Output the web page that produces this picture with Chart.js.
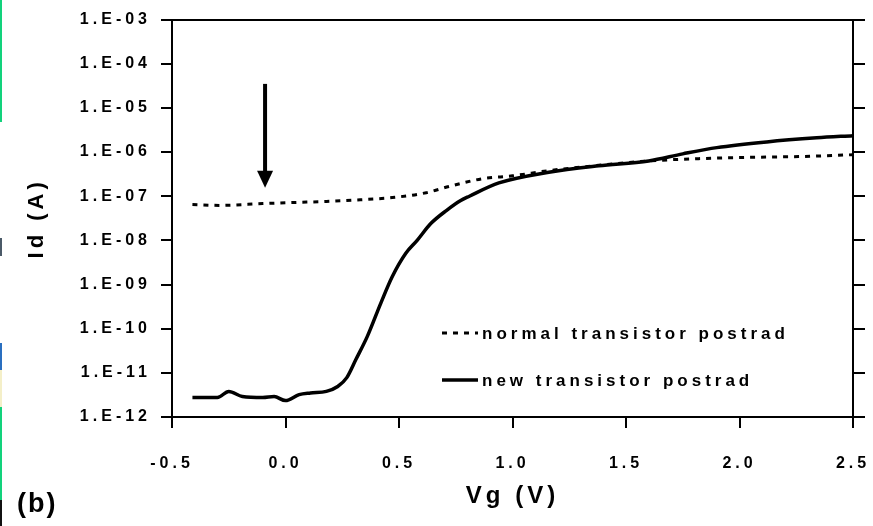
<!DOCTYPE html>
<html>
<head>
<meta charset="utf-8">
<script src="https://cdn.jsdelivr.net/npm/chart.js@4/dist/chart.umd.min.js"></script>
<style>
  body { margin: 0; background: #fff; }
  #wrap { position: relative; width: 873px; height: 526px; }
  #strip {
    position: absolute; left: 0; top: 0; width: 2px; height: 526px; z-index: 2;
    background: linear-gradient(to bottom,
      #12d27c 0px, #12d27c 122px, #fff 122px, #fff 238px,
      #4b5a68 238px, #4b5a68 256px, #fff 256px, #fff 343px,
      #2a6fc0 343px, #2a6fc0 370px, #f4efc8 370px, #f4efc8 407px,
      #12d27c 407px, #12d27c 500px, #111 500px, #111 526px);
  }
</style>
</head>
<body>
<div id="wrap">
  <div id="strip"></div>
  <canvas id="chart"></canvas>
</div>
<script>
// Vg (V) and Id (A)
const normalVg = [-0.41, -0.29, -0.10, 0.03, 0.18, 0.33, 0.47, 0.62, 0.72, 0.87, 1.00, 1.16, 1.38, 1.60, 1.82, 2.04, 2.26, 2.50];
const normalId = [6.5e-8, 6.2e-8, 6.8e-8, 7.2e-8, 7.6e-8, 8.3e-8, 9.3e-8, 1.2e-7, 1.66e-7, 2.5e-7, 2.9e-7, 3.8e-7, 5.0e-7, 6.3e-7, 7.1e-7, 7.6e-7, 7.9e-7, 8.7e-7];

const newVg = [-0.41, -0.30, -0.25, -0.19, -0.10, -0.05, 0.00, 0.06, 0.11, 0.18, 0.23, 0.27, 0.31, 0.36, 0.42, 0.47, 0.53, 0.58, 0.64, 0.71, 0.77, 0.81, 0.94, 1.16, 1.38, 1.60, 1.75, 1.90, 2.12, 2.34, 2.50];
const newId = [2.75e-12, 2.75e-12, 3.8e-12, 2.9e-12, 2.75e-12, 2.9e-12, 2.35e-12, 3.2e-12, 3.5e-12, 3.8e-12, 4.9e-12, 7.8e-12, 2.0e-11, 6.6e-11, 3.8e-10, 1.5e-9, 5.1e-9, 1.0e-8, 2.4e-8, 4.8e-8, 7.9e-8, 1.0e-7, 2.0e-7, 3.5e-7, 4.9e-7, 6.3e-7, 9.1e-7, 1.26e-6, 1.7e-6, 2.1e-6, 2.35e-6];

const seriesLabels = ['normal transistor postrad', 'new transistor postrad'];
const xTickValues = [-0.5, 0.0, 0.5, 1.0, 1.5, 2.0, 2.5];
const yTickValues = [1e-12, 1e-11, 1e-10, 1e-9, 1e-8, 1e-7, 1e-6, 1e-5, 1e-4, 1e-3];

// the arrow marking Vg = 0
const arrowVg = -0.09;
const arrowFromId = 3.5e-5;
const arrowToId = 1.55e-7;

const FONT = '"Liberation Sans", Arial, sans-serif';

const toPoints = (xs, ys) => xs.map((x, i) => ({ x: x, y: ys[i] }));
const yLabel = (v) => '1.E-' + String(-Math.round(Math.log10(v))).padStart(2, '0');

// letter spaced text, legend inside the plot, arrow and panel letter
const decor = {
    id: 'decor',
    beforeLayout(chart) { chart.ctx.letterSpacing = '4px'; },
    beforeDraw(chart) { chart.ctx.letterSpacing = '4px'; },
    afterDraw(chart) {
        const { ctx, chartArea, scales } = chart;
        ctx.save();
        ctx.strokeStyle = '#000';
        ctx.fillStyle = '#000';

        // arrow
        const ax = scales.x.getPixelForValue(arrowVg);
        const ay1 = scales.y.getPixelForValue(arrowFromId);
        const ay2 = scales.y.getPixelForValue(arrowToId);
        ctx.lineWidth = 4;
        ctx.beginPath();
        ctx.moveTo(ax, ay1);
        ctx.lineTo(ax, ay2 - 14);
        ctx.stroke();
        ctx.beginPath();
        ctx.moveTo(ax - 8, ay2 - 17);
        ctx.lineTo(ax + 8, ay2 - 17);
        ctx.lineTo(ax, ay2);
        ctx.closePath();
        ctx.fill();

        // legend
        const rowOffsets = [84, 37];
        const lx = chartArea.left + 270;
        ctx.font = 'bold 17px ' + FONT;
        ctx.textBaseline = 'middle';
        ctx.textAlign = 'left';
        ctx.letterSpacing = '4px';
        chart.data.datasets.forEach((ds, i) => {
            const ly = chartArea.bottom - rowOffsets[i];
            ctx.lineWidth = ds.borderWidth;
            ctx.setLineDash(ds.borderDash || []);
            ctx.beginPath();
            ctx.moveTo(lx, ly);
            ctx.lineTo(lx + 36, ly);
            ctx.stroke();
            ctx.setLineDash([]);
            ctx.fillText(ds.label, lx + 40, ly + 1);
        });

        // panel letter
        ctx.font = 'bold 27px ' + FONT;
        ctx.letterSpacing = '2px';
        ctx.textBaseline = 'alphabetic';
        ctx.fillText('(b)', 17, 512);
        ctx.restore();
    }
};

const ctx = document.getElementById('chart').getContext('2d');
new Chart(ctx, {
    type: 'line',
    data: {
        datasets: [
            {
                label: seriesLabels[0],
                data: toPoints(normalVg, normalId),
                borderColor: '#000',
                borderWidth: 3,
                borderDash: [5, 6],
                pointRadius: 0,
                cubicInterpolationMode: 'monotone'
            },
            {
                label: seriesLabels[1],
                data: toPoints(newVg, newId),
                borderColor: '#000',
                borderWidth: 3.5,
                pointRadius: 0,
                cubicInterpolationMode: 'monotone'
            }
        ]
    },
    options: {
        responsive: true,
        maintainAspectRatio: false,
        animation: false,
        layout: { padding: { left: 0, right: 20, top: 18, bottom: 0 } },
        plugins: {
            legend: { display: false },
            tooltip: { enabled: false }
        },
        scales: {
            x: {
                type: 'linear',
                position: 'bottom',
                min: -0.5,
                max: 2.5,
                afterBuildTicks: (scale) => { scale.ticks = xTickValues.map(v => ({ value: v })); },
                afterFit: (scale) => {
                    scale.height = 109;
                    scale.paddingLeft = 0;
                    scale.paddingRight = 0;
                },
                ticks: {
                    color: '#000',
                    padding: 26,
                    maxRotation: 0,
                    font: { family: FONT, size: 16, weight: 'bold' },
                    callback: (v) => Number(v).toFixed(1)
                },
                grid: { drawOnChartArea: false, color: '#000', lineWidth: 2, tickLength: 11 },
                border: { display: true, color: '#000', width: 2 },
                title: {
                    display: true,
                    text: 'Vg (V)',
                    color: '#000',
                    font: { family: FONT, size: 24, weight: 'bold' },
                    padding: { top: 0, bottom: 15 }
                }
            },
            x2: {
                type: 'linear',
                position: 'top',
                min: -0.5,
                max: 2.5,
                afterFit: (scale) => { scale.height = 0; },
                ticks: { display: false },
                grid: { display: false, drawTicks: false },
                border: { display: true, color: '#000', width: 2 }
            },
            y: {
                type: 'logarithmic',
                position: 'left',
                min: 1e-12,
                max: 1e-3,
                afterBuildTicks: (scale) => { scale.ticks = yTickValues.map(v => ({ value: v })); },
                afterFit: (scale) => { scale.width = 172; },
                ticks: {
                    color: '#000',
                    padding: 10,
                    font: { family: FONT, size: 16, weight: 'bold' },
                    callback: (v) => yLabel(v)
                },
                grid: { drawOnChartArea: false, color: '#000', lineWidth: 2, tickLength: 11 },
                border: { display: true, color: '#000', width: 2 },
                title: {
                    display: true,
                    text: 'Id (A)',
                    color: '#000',
                    font: { family: FONT, size: 22, weight: 'bold' },
                    padding: { top: 24, bottom: 0 }
                }
            },
            y2: {
                type: 'logarithmic',
                position: 'right',
                min: 1e-12,
                max: 1e-3,
                afterBuildTicks: (scale) => { scale.ticks = yTickValues.map(v => ({ value: v })); },
                afterFit: (scale) => { scale.width = 0; },
                ticks: { display: false },
                grid: { drawOnChartArea: false, color: '#000', lineWidth: 2, tickLength: 12 },
                border: { display: true, color: '#000', width: 2 }
            }
        }
    },
    plugins: [decor]
});
</script>
</body>
</html>
